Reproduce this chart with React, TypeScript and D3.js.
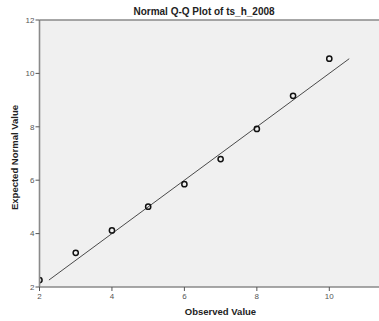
import React from "react";
import * as d3 from "d3";

const observed = [2, 3, 4, 5, 6, 7, 8, 9, 10];
const expected = [2.26, 3.28, 4.12, 5.01, 5.85, 6.79, 7.92, 9.16, 10.55];
const xTicks = [2, 4, 6, 8, 10];
const yTicks = [2, 4, 6, 8, 10, 12];
const title = "Normal Q-Q Plot of ts_h_2008";
const xTitle = "Observed Value";
const yTitle = "Expected Normal Value";

const W = 379;
const H = 321;

export default function App() {
  const x = d3.scaleLinear().domain([2, 10]).range([39.5, 329.3]);
  const y = d3.scaleLinear().domain([2, 12]).range([287, 20]);
  const left = 39.5;
  const top = 20;
  const bottom = 287;
  const lo = d3.min(expected) as number;
  const hi = d3.max(expected) as number;
  const refLine = d3.line<number>().x((d) => x(d)).y((d) => y(d))([lo, hi]) || "";
  const font = "'Liberation Sans', Arial, sans-serif";
  return (
    <svg
      width={W}
      height={H}
      style={{ position: "fixed", left: 0, top: 0, background: "#fff" }}
      fontFamily={font}
    >
      <defs>
        <clipPath id="plotclip">
          <rect x={left} y={top} width={W - left} height={bottom - top} />
        </clipPath>
      </defs>
      <rect x={left} y={top} width={W - left} height={bottom - top} fill="#f0f0f0" />
      <g clipPath="url(#plotclip)">
        <path d={refLine} stroke="#4a4a4a" strokeWidth={1} fill="none" />
        {observed.map((o, i) => (
          <circle
            key={i}
            cx={x(o)}
            cy={y(expected[i])}
            r={2.6}
            fill="none"
            stroke="#111"
            strokeWidth={1.5}
          />
        ))}
      </g>
      <line x1={left} x2={W} y1={top} y2={top} stroke="#8a8a8a" strokeWidth={1.6} />
      <line x1={left} x2={W} y1={bottom} y2={bottom} stroke="#8a8a8a" strokeWidth={1.6} />
      <line x1={left} x2={left} y1={top} y2={bottom} stroke="#8a8a8a" strokeWidth={1.6} />
      {yTicks.map((t) => (
        <g key={"y" + t}>
          <line x1={left - 4} x2={left} y1={y(t)} y2={y(t)} stroke="#555" strokeWidth={1} />
          <text x={left - 5} y={y(t)} dy="0.35em" textAnchor="end" fontSize={8} fill="#555">
            {t}
          </text>
        </g>
      ))}
      {xTicks.map((t) => (
        <g key={"x" + t}>
          <line x1={x(t)} x2={x(t)} y1={bottom} y2={bottom + 4} stroke="#555" strokeWidth={1} />
          <text x={x(t)} y={bottom + 12} textAnchor="middle" fontSize={8} fill="#555">
            {t}
          </text>
        </g>
      ))}
      <text x={204} y={15} textAnchor="middle" fontSize={10} fontWeight="bold" fill="#222">
        {title}
      </text>
      <text x={220.5} y={315} textAnchor="middle" fontSize={9.5} fontWeight="bold" fill="#222">
        {xTitle}
      </text>
      <text
        transform={`translate(18,${(top + bottom) / 2 + 4}) rotate(-90)`}
        textAnchor="middle"
        fontSize={9.5}
        fontWeight="bold"
        fill="#222"
      >
        {yTitle}
      </text>
    </svg>
  );
}
